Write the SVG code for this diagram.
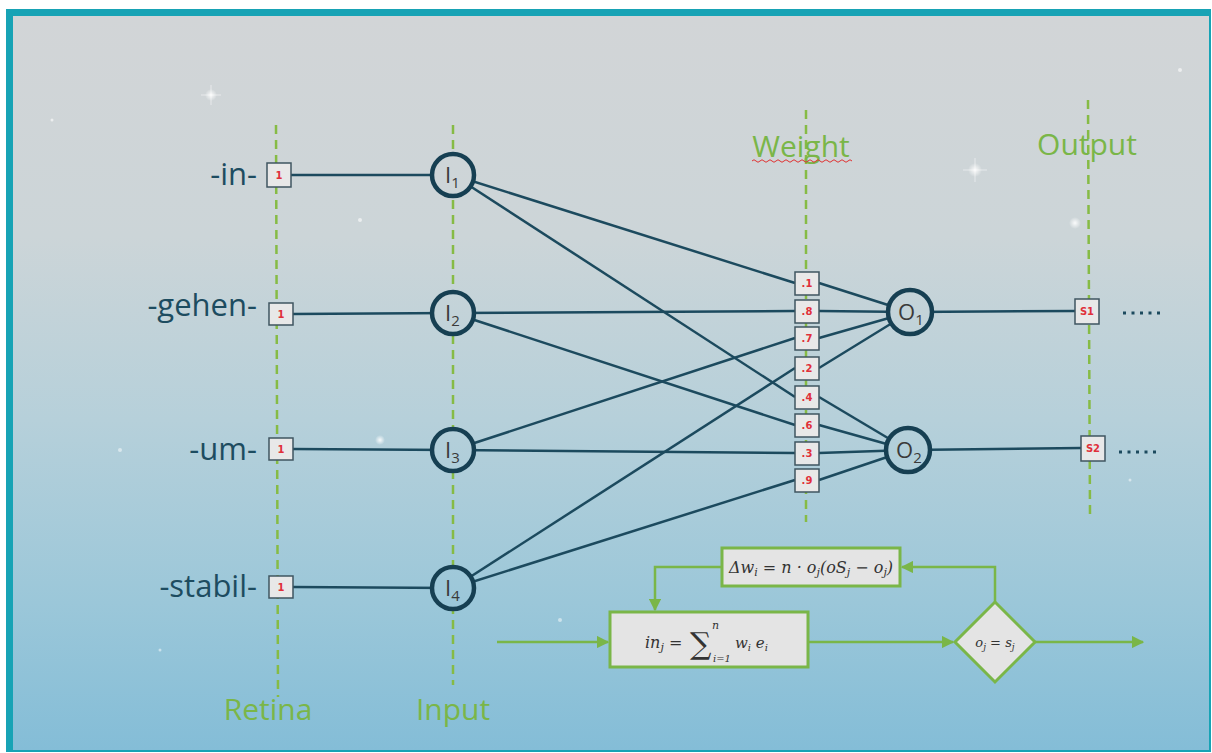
<svg xmlns="http://www.w3.org/2000/svg" width="1212" height="753" viewBox="0 0 1212 753">
<defs>
<linearGradient id="bg" gradientUnits="userSpaceOnUse" x1="0" y1="16" x2="0" y2="750">
<stop offset="0" stop-color="#d2d5d7"/>
<stop offset="0.3" stop-color="#ccd5d8"/>
<stop offset="0.55" stop-color="#b6d0da"/>
<stop offset="0.8" stop-color="#9bc7d9"/>
<stop offset="1" stop-color="#84bdd7"/>
</linearGradient>
<marker id="arr" viewBox="0 0 10 10" refX="9" refY="5" markerWidth="5" markerHeight="5" markerUnits="strokeWidth" orient="auto">
<path d="M0,0 L10,5 L0,10 z" fill="#7ab648"/>
</marker>
<radialGradient id="star">
<stop offset="0" stop-color="#ffffff" stop-opacity="0.9"/>
<stop offset="1" stop-color="#ffffff" stop-opacity="0"/>
</radialGradient>
</defs>
<style>
.guide{stroke:#86bb45;stroke-width:2.5;stroke-dasharray:9 6;fill:none}
.glabel{font-family:"Open Sans","Noto Sans",sans-serif;font-size:30px;fill:#7ab648}
.word{font-family:"Open Sans","Noto Sans",sans-serif;font-size:31px;fill:#1d4c60;text-anchor:end}
.wire{stroke:#1c4a5e;stroke-width:2.5;fill:none}
.cell{fill:#e8e8e8;stroke:#3f5560;stroke-width:1.5}
.cval{font-family:"DejaVu Sans","Liberation Sans",sans-serif;font-weight:bold;font-size:10px;fill:#e0303a;text-anchor:middle}
.neuron{fill:url(#bg);stroke:#163f52;stroke-width:4.5}
.nlab{font-family:"Open Sans","Noto Sans",sans-serif;font-size:22px;fill:#3a3a3a}
.flow{stroke:#7ab648;stroke-width:2.5;fill:none}
.fbox{fill:#e4e4e4;stroke:#7ab648;stroke-width:3}
.math{font-family:"DejaVu Serif","Liberation Serif",serif;font-style:italic;fill:#333333}
.dots{stroke:#1c4a5e;stroke-width:3;stroke-dasharray:3 5.5;fill:none}
</style>
<!-- frame and background -->
<rect x="6" y="9" width="1205" height="743" fill="#17a3b5"/>
<rect x="13" y="16" width="1196" height="734" fill="url(#bg)"/>
<!-- stars -->
<g id="stars">
<circle cx="211" cy="95" r="6" fill="url(#star)"/>
<path d="M211,85 L211,105 M201,95 L221,95" stroke="#ffffff" stroke-opacity="0.5" stroke-width="1"/>
<circle cx="975" cy="170" r="7" fill="url(#star)"/>
<path d="M975,158 L975,182 M963,170 L987,170" stroke="#ffffff" stroke-opacity="0.5" stroke-width="1"/>
<circle cx="360" cy="220" r="2" fill="#ffffff" fill-opacity="0.6"/>
<circle cx="52" cy="120" r="1.5" fill="#ffffff" fill-opacity="0.6"/>
<circle cx="380" cy="440" r="5" fill="url(#star)"/>
<circle cx="120" cy="450" r="2" fill="#ffffff" fill-opacity="0.5"/>
<circle cx="1180" cy="70" r="2" fill="#ffffff" fill-opacity="0.6"/>
<circle cx="1075" cy="223" r="6" fill="url(#star)"/>
<circle cx="160" cy="650" r="1.5" fill="#ffffff" fill-opacity="0.5"/>
<circle cx="560" cy="620" r="2" fill="#ffffff" fill-opacity="0.5"/>
<circle cx="1130" cy="480" r="1.5" fill="#ffffff" fill-opacity="0.5"/>
</g>
<!-- guides -->
<g id="guides">
<line class="guide" x1="276" y1="125" x2="278" y2="697"/>
<line class="guide" x1="453" y1="125" x2="453" y2="685"/>
<line class="guide" x1="806" y1="110" x2="806" y2="522"/>
<line class="guide" x1="1088" y1="100" x2="1090" y2="515"/>
<text class="glabel" x="268" y="720" text-anchor="middle">Retina</text>
<text class="glabel" x="453" y="720" text-anchor="middle">Input</text>
<text class="glabel" x="801" y="157" text-anchor="middle">Weight</text>
<path d="M752,161 q2,-2.5 4,0 t4,0 t4,0 t4,0 t4,0 t4,0 t4,0 t4,0 t4,0 t4,0 t4,0 t4,0 t4,0 t4,0 t4,0 t4,0 t4,0 t4,0 t4,0 t4,0 t4,0 t4,0 t4,0 t4,0 t4,0" stroke="#e03030" stroke-width="1" fill="none"/>
<text class="glabel" x="1087" y="155" text-anchor="middle">Output</text>
</g>
<!-- words -->
<g id="words">
<text class="word" x="257" y="185">-in-</text>
<text class="word" x="257" y="316">-gehen-</text>
<text class="word" x="257" y="460">-um-</text>
<text class="word" x="257" y="597">-stabil-</text>
</g>
<!-- connectors -->
<g id="connectors">
<line class="wire" x1="290" y1="175" x2="453" y2="175"/>
<line class="wire" x1="292" y1="314" x2="453" y2="313"/>
<line class="wire" x1="292" y1="449" x2="453" y2="450"/>
<line class="wire" x1="292" y1="587" x2="453" y2="588"/>
<line class="wire" x1="453" y1="175" x2="795" y2="283"/>
<line class="wire" x1="453" y1="175" x2="795" y2="397"/>
<line class="wire" x1="453" y1="313" x2="795" y2="311"/>
<line class="wire" x1="453" y1="313" x2="795" y2="425"/>
<line class="wire" x1="453" y1="450" x2="795" y2="338"/>
<line class="wire" x1="453" y1="450" x2="795" y2="453"/>
<line class="wire" x1="453" y1="588" x2="795" y2="368"/>
<line class="wire" x1="453" y1="588" x2="795" y2="480"/>
<line class="wire" x1="819" y1="283" x2="910" y2="312"/>
<line class="wire" x1="819" y1="311" x2="910" y2="312"/>
<line class="wire" x1="819" y1="338" x2="910" y2="312"/>
<line class="wire" x1="819" y1="368" x2="910" y2="312"/>
<line class="wire" x1="819" y1="397" x2="908" y2="450"/>
<line class="wire" x1="819" y1="425" x2="908" y2="450"/>
<line class="wire" x1="819" y1="453" x2="908" y2="450"/>
<line class="wire" x1="819" y1="480" x2="908" y2="450"/>
<line class="wire" x1="910" y1="312" x2="1075" y2="311"/>
<line class="wire" x1="908" y1="450" x2="1081" y2="448"/>
<line class="dots" x1="1123" y1="313" x2="1163" y2="313"/>
<line class="dots" x1="1119" y1="452" x2="1159" y2="452"/>
</g>
<!-- retina cells -->
<g id="retina1"><rect class="cell" x="267" y="163" width="24" height="24"/><text class="cval" x="279" y="179">1</text></g>
<g id="retina2"><rect class="cell" x="269" y="303" width="24" height="22"/><text class="cval" x="281" y="318">1</text></g>
<g id="retina3"><rect class="cell" x="269" y="438" width="24" height="22"/><text class="cval" x="281" y="453">1</text></g>
<g id="retina4"><rect class="cell" x="269" y="576" width="24" height="22"/><text class="cval" x="281" y="591">1</text></g>
<!-- input neurons -->
<g id="I1"><circle class="neuron" cx="453" cy="175" r="21"/><text class="nlab" x="445" y="183">I<tspan font-size="15" dy="5">1</tspan></text></g>
<g id="I2"><circle class="neuron" cx="453" cy="313" r="21"/><text class="nlab" x="445" y="321">I<tspan font-size="15" dy="5">2</tspan></text></g>
<g id="I3"><circle class="neuron" cx="453" cy="450" r="21"/><text class="nlab" x="445" y="458">I<tspan font-size="15" dy="5">3</tspan></text></g>
<g id="I4"><circle class="neuron" cx="453" cy="588" r="21"/><text class="nlab" x="445" y="596">I<tspan font-size="15" dy="5">4</tspan></text></g>
<!-- weights -->
<g id="w1"><rect class="cell" x="795" y="272" width="24" height="23"/><text class="cval" x="807" y="287">.1</text></g>
<g id="w2"><rect class="cell" x="795" y="300" width="24" height="23"/><text class="cval" x="807" y="315">.8</text></g>
<g id="w3"><rect class="cell" x="795" y="327" width="24" height="23"/><text class="cval" x="807" y="342">.7</text></g>
<g id="w4"><rect class="cell" x="795" y="357" width="24" height="23"/><text class="cval" x="807" y="372">.2</text></g>
<g id="w5"><rect class="cell" x="795" y="386" width="24" height="23"/><text class="cval" x="807" y="401">.4</text></g>
<g id="w6"><rect class="cell" x="795" y="414" width="24" height="23"/><text class="cval" x="807" y="429">.6</text></g>
<g id="w7"><rect class="cell" x="795" y="442" width="24" height="23"/><text class="cval" x="807" y="457">.3</text></g>
<g id="w8"><rect class="cell" x="795" y="469" width="24" height="23"/><text class="cval" x="807" y="484">.9</text></g>
<!-- output neurons -->
<g id="O1"><circle class="neuron" cx="910" cy="312" r="22"/><text class="nlab" x="898" y="320">O<tspan font-size="15" dy="5">1</tspan></text></g>
<g id="O2"><circle class="neuron" cx="908" cy="450" r="22"/><text class="nlab" x="896" y="458">O<tspan font-size="15" dy="5">2</tspan></text></g>
<!-- output cells -->
<g id="S1"><rect class="cell" x="1075" y="299" width="24" height="25"/><text class="cval" x="1087" y="315">S1</text></g>
<g id="S2"><rect class="cell" x="1081" y="436" width="24" height="25"/><text class="cval" x="1093" y="452">S2</text></g>
<!-- flowchart connectors -->
<g id="flow-connectors">
<line class="flow" x1="497" y1="642" x2="608" y2="642" marker-end="url(#arr)"/>
<line class="flow" x1="808" y1="642" x2="953" y2="642" marker-end="url(#arr)"/>
<line class="flow" x1="1035" y1="642" x2="1143" y2="642" marker-end="url(#arr)"/>
<polyline class="flow" points="995,602 995,567 902,567" marker-end="url(#arr)"/>
<polyline class="flow" points="722,567 655,567 655,610" marker-end="url(#arr)"/>
</g>
<!-- flowchart nodes -->
<g id="delta">
<rect class="fbox" x="722" y="548" width="178" height="38"/>
<text class="math" x="811" y="573" font-size="16" text-anchor="middle">Δw<tspan font-size="11" dy="3">i</tspan><tspan dy="-3"> = n · o</tspan><tspan font-size="11" dy="3">j</tspan><tspan dy="-3">(oS</tspan><tspan font-size="11" dy="3">j</tspan><tspan dy="-3"> − o</tspan><tspan font-size="11" dy="3">j</tspan><tspan dy="-3">)</tspan></text>
</g>
<g id="sum">
<rect class="fbox" x="610" y="612" width="198" height="55"/>
<text class="math" x="645" y="648" font-size="16">in<tspan font-size="11" dy="3">j</tspan><tspan dy="-3"> =</tspan></text>
<text x="690" y="654" font-family="DejaVu Serif,serif" font-size="30" fill="#333333">∑</text>
<text class="math" x="712" y="629" font-size="11">n</text>
<text class="math" x="713" y="662" font-size="10">i=1</text>
<text class="math" x="735" y="648" font-size="15">w<tspan font-size="10" dy="3">i</tspan><tspan dy="-3"> e</tspan><tspan font-size="10" dy="3">i</tspan></text>
</g>
<g id="decision">
<polygon class="fbox" points="995,602 1035,642 995,682 955,642"/>
<text class="math" x="995" y="647" font-size="13" text-anchor="middle">o<tspan font-size="9" dy="3">j</tspan><tspan dy="-3"> = s</tspan><tspan font-size="9" dy="3">j</tspan></text>
</g>
</svg>
